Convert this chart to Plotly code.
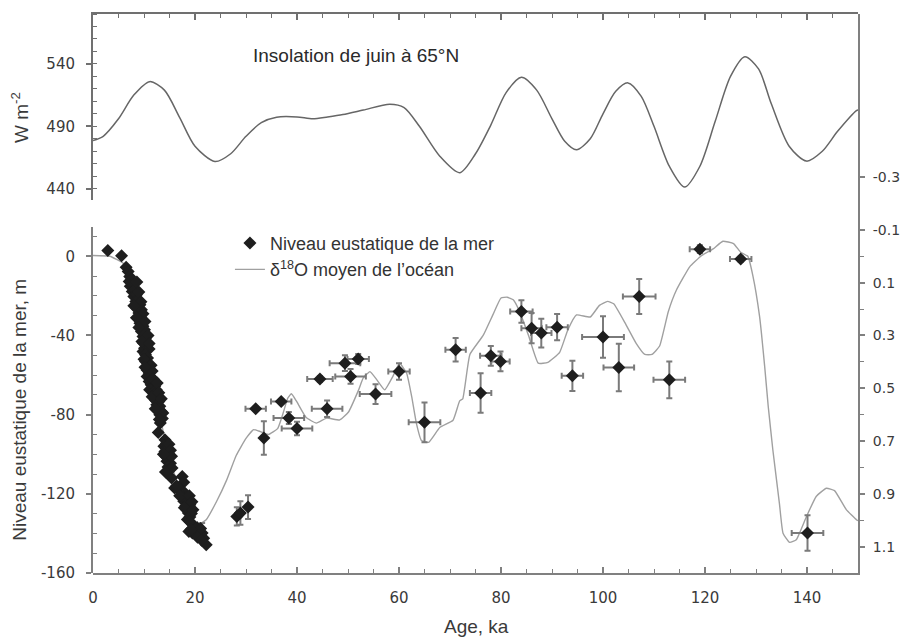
import plotly.graph_objects as go

# ---------------- data ----------------
# June insolation at 65N (W m-2)
ins_age = [0, 2, 5, 8, 11.1, 14, 17, 20, 23.9, 27, 30, 33, 36, 40, 43.1, 46, 49, 53, 58.2, 61, 64, 68,
           71.9, 75, 78, 81, 84, 87, 90, 92.5, 94.8, 97.5, 100, 102.5, 104.9, 107.5, 110, 113, 116,
           119, 122, 125, 127.8, 130.5, 133, 136.5, 139.9, 143, 146, 149.7, 150]
ins_val = [478.6, 482, 496, 515, 525.8, 519, 497, 474, 461.8, 468, 482, 493, 497.3, 497.5, 496, 497.5,
           499.4, 503, 507.7, 505, 490, 466, 452.8, 468, 491, 517, 529.3, 519, 496, 478, 471.2, 480,
           500, 518, 524.8, 514, 490, 458, 441.3, 458, 494, 530, 545.8, 536, 508, 474, 462.1, 470,
           486, 502.6, 503]

# mean ocean d18O (permil, right axis)
d18_age = [0, 3.3, 5.9, 7.5, 9.2, 10.5, 11.4, 12.4, 13.4, 14.4, 15.7, 17.0, 18.3, 19.6, 20.6, 22.2,
           24.2, 26.2, 28.1, 30.0, 31.5, 32.5, 34.4, 36.2, 37.3, 38.2, 38.9, 39.9, 41.8, 43.8, 45.8,
           48.4, 50.1, 52.0, 53.0, 54.3, 55.7, 57.2, 58.8, 60.1, 61.5, 62.5, 63.4, 64.4, 65.8, 68.0,
           70.6, 71.9, 72.5, 73.9, 76.5, 78.4, 80.0, 81.2, 82.4, 83.5, 85.4, 87.3, 89.2, 91.5, 93.1,
           94.8, 97.5, 99.3, 100.9, 102.1, 104.5, 106.5, 108.2, 109.6, 111.1, 112.8, 114.4, 117.0,
           119.3, 121.6, 123.5, 125.6, 127.0, 128.4, 129.4, 130.7, 131.7, 132.4, 133.3, 134.6, 135.3,
           136.6, 137.9, 139.9, 141.8, 143.8, 145.4, 147.7, 149.7, 150]
d18_val = [-0.003, 0.000, 0.026, 0.064, 0.153, 0.278, 0.405, 0.531, 0.630, 0.720, 0.809, 0.885, 0.948,
           0.998, 1.017, 0.998, 0.930, 0.848, 0.754, 0.690, 0.657, 0.662, 0.675, 0.653, 0.593, 0.537,
           0.521, 0.549, 0.611, 0.632, 0.613, 0.620, 0.590, 0.510, 0.461, 0.437, 0.469, 0.506, 0.455,
           0.405, 0.443, 0.533, 0.632, 0.698, 0.705, 0.649, 0.621, 0.548, 0.540, 0.372, 0.300, 0.222,
           0.158, 0.155, 0.165, 0.203, 0.300, 0.405, 0.402, 0.364, 0.279, 0.222, 0.230, 0.186, 0.171,
           0.180, 0.259, 0.330, 0.372, 0.372, 0.340, 0.210, 0.128, 0.040, -0.002, -0.028, -0.057,
           -0.048, -0.015, 0.000, 0.075, 0.228, 0.417, 0.569, 0.733, 0.938, 1.049, 1.084, 1.074,
           0.986, 0.910, 0.879, 0.888, 0.960, 0.998, 1.002]

# eustatic sea level, dense record (no error bars)
sl_age = [2.9, 5.6, 6.5, 6.9, 7.2, 7.1, 7.5, 7.3, 7.8, 7.7, 8.2, 8.0, 8.5, 8.4, 8.8, 9.2, 8.6, 9.0, 9.5,
          9.3, 9.7, 9.2, 9.8, 9.5, 10.1, 9.8, 10.3, 9.9, 10.5, 10.1, 10.6, 9.8, 11.0, 10.3, 10.7, 10.3,
          10.8, 10.6, 11.0, 10.6, 11.2, 11.0, 11.4, 11.1, 11.6, 12.1, 12.4, 12.0, 12.5, 12.3, 12.9,
          12.5, 13.1, 12.8, 13.4, 13.1, 13.7, 13.2, 12.8, 14.1, 14.4, 13.9, 14.5, 14.1, 14.7, 14.3,
          14.9, 14.5, 15.2, 14.7, 15.0, 15.4, 17.5, 17.8, 16.0, 16.7, 17.3, 18.0, 17.5, 18.3, 17.8,
          18.6, 18.2, 19.0, 18.4, 19.2, 18.7, 19.3, 19.0, 19.6, 18.8, 19.5, 20.1, 20.8, 20.9, 21.7,
          22.2,
          8.6, 9.0, 9.4, 8.0, 9.8, 8.5, 10.2, 9.0, 10.8, 9.6, 11.0, 10.0, 11.4, 11.6, 10.2, 11.8, 12.6,
          11.6, 12.9, 13.4, 12.2, 13.6, 13.0, 14.9, 15.2, 15.4, 13.8, 15.5, 14.2, 16.4, 17.0, 18.9,
          19.4, 17.9, 19.6, 18.5, 19.0, 20.4, 21.1, 20.5, 21.3, 19.2]
sl_val = [2.9, 0.3, -5.5, -7.7, -10.2, -12.7, -11.9, -15.2, -14.4, -17.8, -16.9, -20.3, -19.4, -22.8,
          -22.0, -24.5, -26.2, -28.7, -27.0, -30.7, -32.1, -33.8, -35.4, -38.0, -37.1, -40.5, -41.3,
          -43.9, -44.7, -46.4, -47.2, -48.1, -46.9, -49.7, -51.4, -53.1, -54.0, -57.4, -59.0, -60.7,
          -60.7, -63.2, -64.9, -67.4, -68.3, -65.7, -67.4, -69.9, -70.8, -72.8, -73.3, -75.0, -75.8,
          -77.5, -78.4, -80.1, -79.2, -84.2, -89.0, -92.7, -94.4, -96.0, -96.9, -98.6, -99.4, -101.1,
          -101.9, -103.6, -104.5, -106.5, -107.8, -112.0, -111.2, -114.2, -117.1, -117.6, -118.2,
          -119.6, -121.3, -122.1, -123.8, -123.8, -126.0, -125.5, -128.0, -127.7, -129.7, -130.0,
          -131.7, -135.6, -139.0, -139.8, -140.1, -139.5, -141.5, -142.4, -145.7,
          -13, -18, -23, -25, -29, -31, -33, -36, -40, -43, -44, -52, -55, -58, -56, -62, -64,
          -71, -69, -72, -77, -82, -82.5, -95, -98, -101, -100, -107, -109, -116, -121, -121,
          -124, -127, -128, -133, -134, -137, -137.5, -142, -143.5, -138]

# eustatic sea level, dated points with error bars
pt_age = [21.4, 28.2, 28.9, 30.4, 31.9, 33.5, 36.9, 38.4, 40.0, 44.5, 45.9, 49.4, 52.0, 50.5, 55.4,
          60.0, 65.0, 71.1, 76.0, 78.0, 79.9, 84.0, 86.0, 87.9, 91.0, 94.0, 100.0, 103.1, 107.1,
          113.0, 119.0, 127.0, 140.1]
pt_val = [-139.8, -131.4, -129.7, -126.7, -77.0, -91.8, -73.3, -81.7, -87.0, -62.0, -77.0, -54.0,
          -51.9, -60.7, -69.6, -58.2, -83.9, -47.2, -69.1, -50.3, -53.1, -27.9, -36.3, -38.8, -35.8,
          -60.4, -40.8, -56.2, -20.3, -62.4, 3.6, -1.4, -139.8]
pt_age_err = [0, 0.4, 0.4, 0.3, 2.0, 0.3, 2.0, 3.0, 3.0, 2.5, 3.0, 3.0, 2.1, 3.0, 3.1, 2.1, 3.1, 2.0,
              2.1, 2.1, 1.8, 2.2, 2.0, 2.0, 2.1, 2.1, 4.1, 3.0, 3.2, 3.1, 2.0, 2.1, 3.1]
pt_val_err = [5.0, 4.6, 5.9, 6.0, 1.0, 8.4, 1.0, 3.0, 3.4, 1.5, 4.2, 4.0, 2.5, 3.7, 5.0, 4.2, 10.0,
              5.9, 10.0, 5.0, 5.0, 5.7, 7.6, 7.3, 6.6, 7.6, 10.5, 12.0, 8.8, 9.3, 2.0, 1.3, 9.0]

age_ticks = [0, 20, 40, 60, 80, 100, 120, 140]
sl_ticks = [-160, -120, -80, -40, 0]
ins_ticks = [440, 490, 540]
d18_ticks = [-0.3, -0.1, 0.1, 0.3, 0.5, 0.7, 0.9, 1.1]
d18_labels = ["-0.3", "-0.1", "0.1", "0.3", "0.5", "0.7", "0.9", "1.1"]

# ---------------- figure ----------------
TICKFONT = dict(family="DejaVu Sans", size=15, color="#3a3a3a")
RTICKFONT = dict(family="DejaVu Sans", size=14, color="#3a3a3a")
LBLFONT = "Liberation Sans, Arial, sans-serif"
AXC = "#808080"

fig = go.Figure()

fig.add_trace(go.Scatter(x=ins_age, y=ins_val, xaxis="x2", yaxis="y2", mode="lines",
                         line=dict(color="#666666", width=1.5, shape="spline", smoothing=0.8),
                         showlegend=False, hoverinfo="skip"))

fig.add_trace(go.Scatter(x=d18_age, y=d18_val, xaxis="x", yaxis="y", mode="lines",
                         name="δ<sup>18</sup>O moyen de l’océan", legendgroup="b", legendrank=2,
                         line=dict(color="#a0a0a0", width=1.4, shape="spline", smoothing=0.4)))

fig.add_trace(go.Scatter(x=pt_age, y=pt_val, xaxis="x", yaxis="y3", mode="markers",
                         showlegend=False,
                         marker=dict(symbol="diamond", size=10, color="#1e1e1e"),
                         error_x=dict(type="data", array=pt_age_err, color="#7a7a7a", thickness=2, width=3),
                         error_y=dict(type="data", array=pt_val_err, color="#7a7a7a", thickness=2, width=3)))

fig.add_trace(go.Scatter(x=sl_age, y=sl_val, xaxis="x", yaxis="y3", mode="markers",
                         name="Niveau eustatique de la mer", legendgroup="a", legendrank=1,
                         marker=dict(symbol="diamond", size=10, color="#1e1e1e")))

fig.update_layout(
    width=901, height=638, autosize=False,
    margin=dict(l=93, r=43, t=14, b=65, autoexpand=False),
    paper_bgcolor="white", plot_bgcolor="rgba(0,0,0,0)",
    showlegend=True,
    legend=dict(x=0.179, y=0.623, xanchor="left", yanchor="top", bgcolor="rgba(0,0,0,0)",
                font=dict(family=LBLFONT, size=18, color="#333333"), tracegroupgap=0,
                itemwidth=30),
    xaxis=dict(domain=[0, 1], anchor="y", range=[0, 150], tickvals=age_ticks, automargin=False,
               ticks="inside", ticklen=6, tickwidth=1.5, tickcolor=AXC,
               minor=dict(dtick=5, tick0=0, ticks="inside", ticklen=4, tickcolor=AXC, tickwidth=1.2),
               showline=True, linecolor=AXC, linewidth=2, showgrid=False, zeroline=False,
               tickfont=TICKFONT, ticklabelstandoff=10),
    xaxis2=dict(domain=[0, 1], anchor="y2", range=[0, 150], side="top", showticklabels=False,
                automargin=False,
                tickvals=age_ticks, ticks="inside", ticklen=6, tickwidth=1.5, tickcolor="#707070",
                minor=dict(dtick=5, tick0=0, ticks="inside", ticklen=4, tickcolor="#707070", tickwidth=1.2),
                showline=True, linecolor="#707070", linewidth=2, showgrid=False, zeroline=False),
    yaxis=dict(domain=[0, 1], anchor="x", side="right", range=[1.2, -0.918], automargin=False,
               tickvals=d18_ticks, ticktext=d18_labels,
               ticks="outside", ticklen=5, tickwidth=1.5, tickcolor=AXC,
               minor=dict(tickmode="array", tickvals=[0.0, 0.2, 0.4, 0.6, 0.8, 1.0],
                          ticks="outside", ticklen=4, tickcolor=AXC, tickwidth=1.2),
               showline=True, linecolor=AXC, linewidth=2, showgrid=False, zeroline=False,
               tickfont=RTICKFONT, ticklabelstandoff=5),
    yaxis2=dict(domain=[0.6674, 1], anchor="x2", range=[431, 580], tickvals=ins_ticks,
                automargin=False,
                ticks="outside", ticklen=5, tickwidth=1.5, tickcolor="#707070",
                minor=dict(dtick=10, tick0=440, ticks="inside", ticklen=4, tickcolor="#707070", tickwidth=1.2),
                showline=True, linecolor="#707070", linewidth=2, showgrid=False, zeroline=False,
                tickfont=TICKFONT, ticklabelstandoff=8),
    yaxis3=dict(domain=[0, 0.6197], anchor="x", side="left", range=[-160, 15], automargin=False,
                tickvals=sl_ticks, ticktext=[str(v) for v in sl_ticks],
                ticks="outside", ticklen=5, tickwidth=1.5, tickcolor=AXC,
                minor=dict(tickmode="array",
                           tickvals=[-150, -140, -130, -110, -100, -90, -70, -60, -50, -30, -20, -10, 10],
                           ticks="inside", ticklen=4, tickcolor=AXC, tickwidth=1.2),
                showline=True, linecolor=AXC, linewidth=2, showgrid=False, zeroline=False,
                tickfont=TICKFONT, ticklabelstandoff=8),
)

annots = [
    dict(text="Age, ka", x=0.5007, y=-0.096, xref="paper", yref="paper", xanchor="center",
         yanchor="middle", showarrow=False, font=dict(family=LBLFONT, size=19, color="#3a3a3a")),
    dict(text="Niveau eustatique de la mer, m", x=-0.0954, y=0.292, xref="paper", yref="paper",
         xanchor="center", yanchor="middle", textangle=-90, showarrow=False,
         font=dict(family=LBLFONT, size=19, color="#3a3a3a")),
    dict(text="W m<sup>-2</sup>", x=-0.0954, y=0.814, xref="paper", yref="paper",
         xanchor="center", yanchor="middle", textangle=-90, showarrow=False,
         font=dict(family=LBLFONT, size=19, color="#3a3a3a")),
    dict(text="Insolation de juin à 65°N", x=0.2065, y=0.925, xref="paper", yref="paper",
         xanchor="left", yanchor="middle", showarrow=False,
         font=dict(family=LBLFONT, size=19, color="#2a2a2a")),
]
fig.update_layout(annotations=annots)

fig.write_html("out.html", config={"displayModeBar": False, "responsive": False},
               post_script="document.body.style.margin='0px';document.body.style.overflow='hidden';")
